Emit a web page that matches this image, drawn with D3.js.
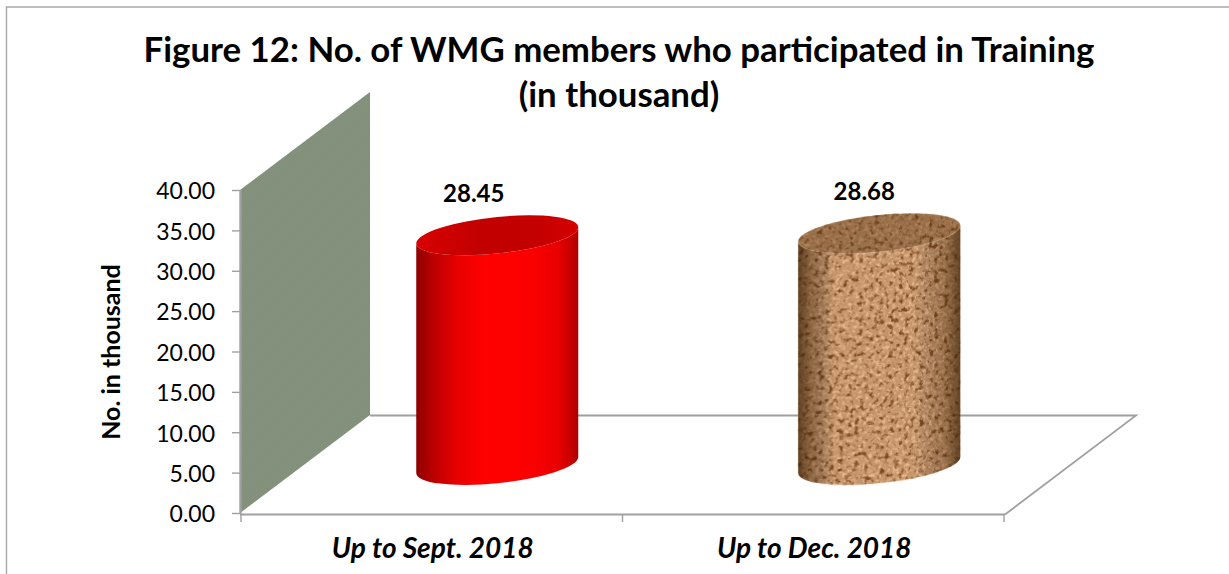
<!DOCTYPE html>
<html><head><meta charset="utf-8">
<script src="https://d3js.org/d3.v7.min.js"></script>
<style>html,body{margin:0;background:#fff}svg{display:block}text{font-family:Lato,"Open Sans",sans-serif;fill:#000}</style>
</head><body><svg id="c" width="1229" height="574"></svg>
<script>
const categories = ["Up to Sept. 2018", "Up to Dec. 2018"];
const values = [28.45, 28.68];
const valueLabels = ["28.45", "28.68"];
const yTicks = [0, 5, 10, 15, 20, 25, 30, 35, 40];
const titleLines = ["Figure 12: No. of WMG members who participated in Training", "(in thousand)"];
const yTitle = "No. in thousand";

const svg = d3.select("#c");
const defs = svg.append("defs");
const y = d3.scaleLinear().domain([0, 40]).range([513, 190]);
const x = d3.scaleBand().domain(categories).range([241, 1004]);
const depth = {dx: 130, dy: -98};
const slant = 0.099, rx = 81, ry = 18.3;
const barShift = {dx: 66, dy: -48};

// frame
svg.append("path").attr("d", "M6.5,574V7H1229").attr("fill", "none").attr("stroke", "#a8a8a8").attr("stroke-width", 1.4);

// wall pattern
const pat = defs.append("pattern").attr("id", "hatch").attr("width", 3).attr("height", 3).attr("patternUnits", "userSpaceOnUse");
pat.append("rect").attr("width", 3).attr("height", 3).attr("fill", "#85927d");
pat.append("path").attr("d", "M0,3L3,0").attr("stroke", "#7e8b76").attr("stroke-width", .7);

const line = d3.line();
const yb = y(0), yt = y(40), xl = x.range()[0] - 1, xr = x.range()[1];
svg.append("path").attr("d", line([[xl, yb], [xl, yt], [xl + depth.dx, yt + depth.dy], [xl + depth.dx, yb + depth.dy]]) + "Z")
  .attr("fill", "url(#hatch)");
svg.append("path").attr("d", line([[xl + depth.dx, yb + depth.dy + .5], [xr + depth.dx + 2, yb + depth.dy + .5], [xr + 1, yb + 1.5]]))
  .attr("fill", "none").attr("stroke", "#a0a0a0").attr("stroke-width", 1.8);
svg.append("path").attr("d", line([[xl, yb + 1.5], [xr + 1, yb + 1.5]])).attr("fill", "none").attr("stroke", "#a0a0a0").attr("stroke-width", 1.8);
svg.append("path").attr("d", line([[xl + .5, yt], [xl + .5, yb + 1]])).attr("fill", "none").attr("stroke", "#a0a0a0").attr("stroke-width", 2.4);

// axes
const yAxis = d3.axisLeft(y).tickValues(yTicks).tickSize(8).tickPadding(17).tickFormat(d3.format(".2f"));
const ga = svg.append("g").attr("transform", `translate(${xl},0)`).call(yAxis);
ga.select(".domain").remove();
ga.selectAll("line").attr("stroke", "#a0a0a0").attr("stroke-width", 1.4);
ga.selectAll("text").attr("font-size", 23).attr("dy", "0.38em").style("font-family", "Lato");

const xTicks = [...categories.map(c => x(c)), x.range()[1]];
svg.selectAll(".xt").data(xTicks).join("line").attr("x1", d => d).attr("x2", d => d)
  .attr("y1", yb + 1).attr("y2", yb + 9).attr("stroke", "#a0a0a0").attr("stroke-width", 1.4);
svg.selectAll(".xl").data(categories).join("text")
  .attr("x", d => x(d) + x.bandwidth() / 2 + 1).attr("y", 558).attr("text-anchor", "middle")
  .attr("font-size", 28).attr("font-weight", 700).attr("font-style", "italic").text(d => d);

// gradients
const redG = defs.append("linearGradient").attr("id", "red");
[[0, "#8e0000"], [.1, "#b80000"], [.25, "#e80000"], [.42, "#ff0000"], [.72, "#fb0000"], [.88, "#e80000"], [.97, "#c00000"], [1, "#a80000"]]
  .forEach(s => redG.append("stop").attr("offset", s[0]).attr("stop-color", s[1]));
const redTop = defs.append("linearGradient").attr("id", "redTop");
[[0, "#d80000"], [.4, "#c20000"], [.75, "#c40000"], [1, "#d60000"]]
  .forEach(s => redTop.append("stop").attr("offset", s[0]).attr("stop-color", s[1]));
const shade = defs.append("linearGradient").attr("id", "shade");
[[0, "#3c2208", .75], [.08, "#3c2208", .42], [.22, "#000", 0], [.72, "#000", 0], [.9, "#3c2208", .32], [1, "#3c2208", .72]]
  .forEach(s => shade.append("stop").attr("offset", s[0]).attr("stop-color", s[1]).attr("stop-opacity", s[2]));

// cork texture
const f = defs.append("filter").attr("id", "cork").attr("x", 0).attr("y", 0).attr("width", 1).attr("height", 1).attr("color-interpolation-filters", "sRGB");
f.append("feFlood").attr("flood-color", "#c4946a").attr("result", "base");
f.append("feTurbulence").attr("type", "fractalNoise").attr("baseFrequency", .2).attr("numOctaves", 3).attr("seed", 7).attr("result", "n1");
f.append("feColorMatrix").attr("in", "n1").attr("type", "matrix")
  .attr("values", "0 0 0 0 .49  0 0 0 0 .28  0 0 0 0 .13  3 3 0 0 -3.1").attr("result", "spots");
f.append("feTurbulence").attr("type", "fractalNoise").attr("baseFrequency", .3).attr("numOctaves", 2).attr("seed", 21).attr("result", "n2");
f.append("feColorMatrix").attr("in", "n2").attr("type", "matrix")
  .attr("values", "0 0 0 0 .9  0 0 0 0 .72  0 0 0 0 .55  3 3 0 0 -2.85").attr("result", "lights");
const m = f.append("feMerge").attr("result", "tex");
m.append("feMergeNode").attr("in", "base");
m.append("feMergeNode").attr("in", "lights");
m.append("feMergeNode").attr("in", "spots");
f.append("feGaussianBlur").attr("in", "tex").attr("stdDeviation", .6).attr("result", "soft");
f.append("feComposite").attr("in", "soft").attr("in2", "SourceAlpha").attr("operator", "in");

// cylinders
const bars = categories.map((c, i) => ({c, v: values[i], label: valueLabels[i], i}));
const g = svg.selectAll(".bar").data(bars).join("g").attr("class", "bar");
g.each(function (d) {
  const s = d3.select(this);
  const mid = x(d.c) + x.bandwidth() / 2;
  const cx = mid + barShift.dx - (d.i === 0 ? 0.5 : 0);
  const base = y(0) + barShift.dy;
  const top = base - (y(0) - y(d.v));
  const inner = s.append("g").attr("transform", `translate(${cx},0) matrix(1,${-slant},0,1,0,0)`);
  const body = `M${-rx},${top}L${-rx},${base}A${rx},${ry} 0 0 0 ${rx},${base}L${rx},${top}A${rx},${ry} 0 0 1 ${-rx},${top}Z`;
  if (d.i === 0) {
    inner.append("path").attr("d", body).attr("fill", "url(#red)");
    inner.append("ellipse").attr("cy", top).attr("rx", rx).attr("ry", ry).attr("fill", "url(#redTop)");
  } else {
    inner.append("path").attr("d", body).attr("fill", "#000").attr("filter", "url(#cork)");
    inner.append("path").attr("d", body).attr("fill", "url(#shade)");
    inner.append("ellipse").attr("cy", top).attr("rx", rx).attr("ry", ry).attr("fill", "#000").attr("filter", "url(#cork)");
    inner.append("ellipse").attr("cy", top).attr("rx", rx).attr("ry", ry).attr("fill", "#5a3a18").attr("fill-opacity", .42);
  }
  s.append("text").attr("x", mid + (d.i === 0 ? 42 : 51)).attr("y", top - 33)
    .attr("text-anchor", "middle").attr("font-size", 24).attr("font-weight", 700).text(d.label);
});

// titles
svg.append("text").attr("x", 619).attr("y", 62).attr("text-anchor", "middle").attr("font-size", 34.8).attr("font-weight", 700).text(titleLines[0]);
svg.append("text").attr("x", 619).attr("y", 107).attr("text-anchor", "middle").attr("font-size", 34.8).attr("font-weight", 700).text(titleLines[1]);
svg.append("text").attr("transform", "translate(120,352) rotate(-90)").attr("text-anchor", "middle")
  .attr("font-size", 25).attr("font-weight", 700).text(yTitle);
</script></body></html>
